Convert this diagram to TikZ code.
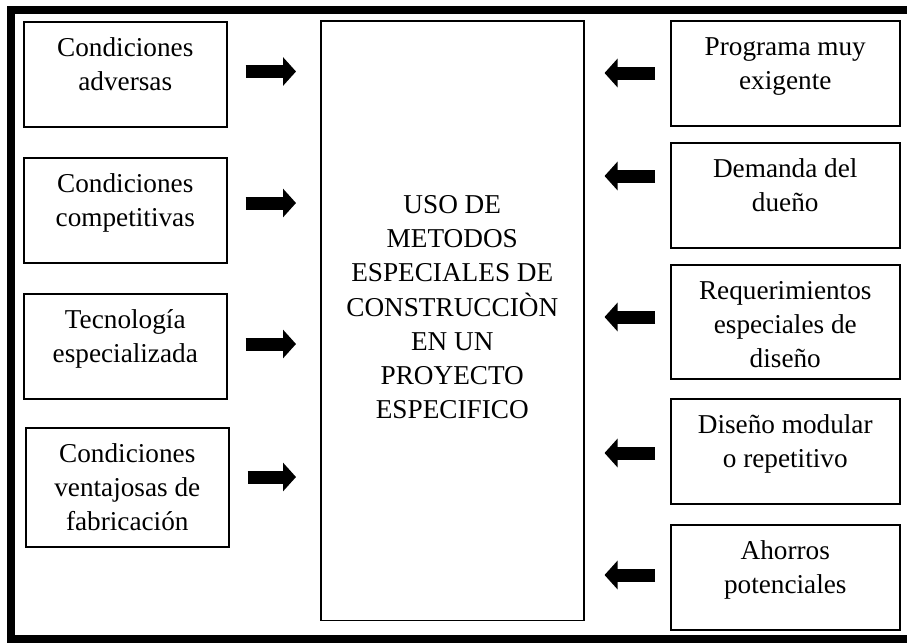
\documentclass[tikz,border=0pt]{standalone}
\usepackage{fontspec}
\setmainfont{Liberation Serif}
\usetikzlibrary{arrows.meta}

\begin{document}
\begin{tikzpicture}[x=0.02cm, y=-0.02cm,
    factor/.style={rectangle, draw=black, line width=0.9pt, inner sep=0pt, anchor=north west, text width=4.06cm, align=flush center, font=\fontsize{15.5}{19.4}\selectfont, text height=0.7cm, text depth=1.4cm},
    driver/.style={factor, text width=4.58cm},
    centre/.style={factor, text width=5.26cm, text height=3.86cm, text depth=8.14cm},
    pushright/.style={line width=0.26cm, -{Triangle[length=0.26cm, width=0.56cm]}, shorten <=0.36cm, shorten >=0.48cm},
    pushleft/.style={line width=0.26cm, -{Triangle[length=0.26cm, width=0.56cm]}, shorten <=0.3cm, shorten >=0.4cm}
]
\useasboundingbox (0,0) rectangle (907,643);
\draw[line width=5pt] (907,10) -- (11,10) -- (11,639) -- (907,639);

\node[centre] (uso) at (320,20) {USO DE\\METODOS\\ESPECIALES DE\\CONSTRUCCIÒN\\EN UN\\PROYECTO\\ESPECIFICO};

\node[factor] (c1) at (23,21) {Condiciones\\adversas};
\node[factor] (c2) at (23,157) {Condiciones\\competitivas};
\node[factor] (c3) at (23,293) {Tecnología\\especializada};
\node[factor, text depth=1.68cm] (c4) at (25,427) {Condiciones\\ventajosas de\\fabricación};

\node[driver] (r1) at (670,20) {Programa muy\\exigente};
\node[driver] (r2) at (670,142) {Demanda del\\dueño};
\node[driver, text depth=1.58cm] (r3) at (670,264) {Requerimientos\\especiales de\\diseño};
\node[driver] (r4) at (670,398) {Diseño modular\\o repetitivo};
\node[driver] (r5) at (670,524) {Ahorros\\potenciales};

\foreach \src/\yy in {c1/71.5, c2/203, c3/344, c4/477}
  \draw[pushright] (\src.east |- 0,\yy) -- (uso.west |- 0,\yy);
\foreach \src/\yy in {r1/73, r2/176, r3/317, r4/453, r5/575}
  \draw[pushleft] (\src.west |- 0,\yy) -- (uso.east |- 0,\yy);

\end{tikzpicture}
\end{document}
